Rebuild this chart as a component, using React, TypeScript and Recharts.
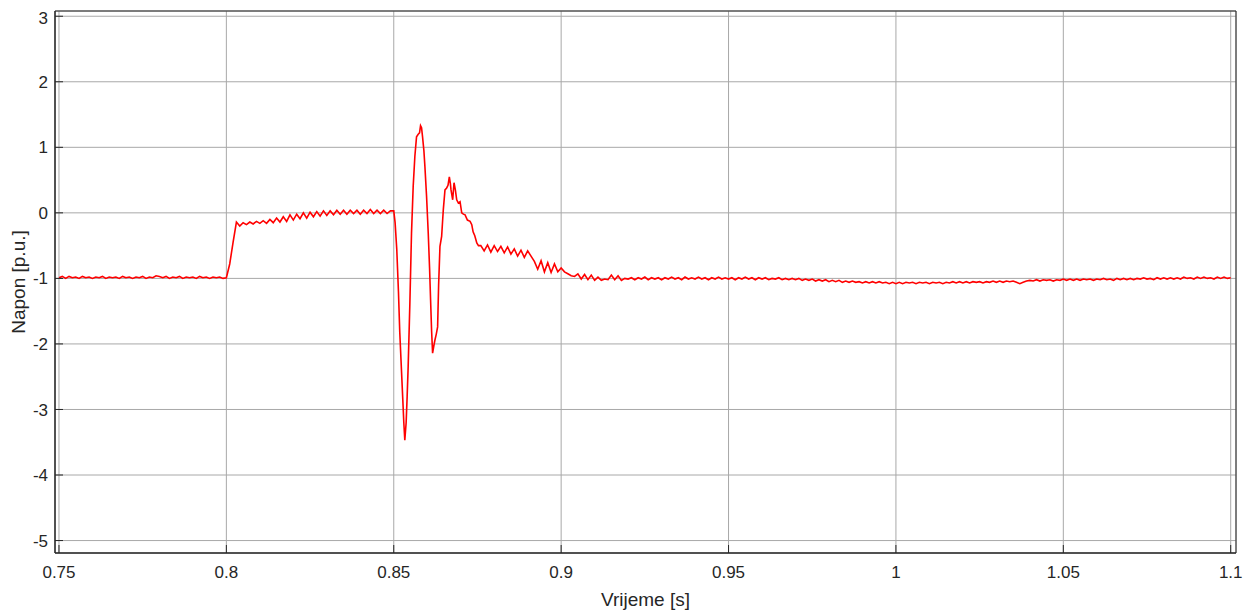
import React from 'react';
import { LineChart, Line, XAxis, YAxis, CartesianGrid, ReferenceArea, Label } from 'recharts';

// ---- axis ticks ----
const xTicks = [0.75, 0.8, 0.85, 0.9, 0.95, 1, 1.05, 1.1];
const yTicks = [-5, -4, -3, -2, -1, 0, 1, 2, 3];
const xDomain: [number, number] = [0.74881, 1.10158];
const yDomain: [number, number] = [-5.19, 3.08];

// ---- sampled data (time grid start / step, voltage in p.u.) ----
const sampleStep = 0.001;

const preFaultStart = 0.75;
const preFaultVoltage = [
  -0.99, -0.97, -1.0, -0.97, -0.99, -0.98, -1.0, -0.97, -0.99, -0.98,
  -1.0, -0.98, -0.99, -0.97, -1.0, -0.98, -0.99, -0.98, -1.0, -0.97,
  -0.99, -0.98, -1.0, -0.98, -0.99, -0.97, -1.0, -0.98, -0.99, -0.96,
  -0.97, -0.99, -0.97, -1.0, -0.98, -0.99, -0.97, -1.0, -0.98, -0.99,
  -0.98, -1.0, -0.97, -0.99, -0.98, -1.0, -0.98, -0.99, -0.98, -1.0,
];

const faultStart = 0.8;
const faultVoltage = [
  -0.99, -0.78, -0.45, -0.14, -0.2, -0.15, -0.18, -0.14, -0.17, -0.13,
  -0.16, -0.12, -0.16, -0.1, -0.15, -0.08, -0.14, -0.06, -0.13, -0.03,
  -0.11, -0.02, -0.09, 0.0, -0.08, 0.01, -0.06, 0.02, -0.05, 0.03,
  -0.04, 0.03, -0.03, 0.04, -0.02, 0.04, -0.02, 0.04, -0.01, 0.04,
  -0.02, 0.04, -0.01, 0.05, -0.01, 0.04, -0.01, 0.04, -0.01, 0.03,
];

const transientTime = [
  0.85, 0.8504, 0.8509, 0.8514, 0.8518, 0.8523, 0.8527, 0.853, 0.8533, 0.8537,
  0.854, 0.8543, 0.8548, 0.8553, 0.8558, 0.8563, 0.8568, 0.8573, 0.8577, 0.858,
  0.8583, 0.8586, 0.859, 0.8593, 0.8598, 0.8603, 0.8607, 0.861, 0.8613, 0.8616,
  0.862, 0.8623, 0.8627, 0.8631, 0.8634, 0.8638, 0.8643, 0.8648, 0.8653, 0.8658,
  0.8662, 0.8666, 0.8669, 0.8671, 0.8676, 0.868, 0.8684, 0.8688, 0.8693, 0.8698,
  0.8703, 0.8708, 0.8713, 0.872, 0.8728, 0.8733, 0.8737, 0.8742, 0.8748, 0.8753,
];
const transientVoltage = [
  0.03, -0.15, -0.56, -1.2, -1.83, -2.4, -2.85, -3.2, -3.47, -3.2,
  -2.8, -2.35, -1.4, -0.31, 0.4, 0.86, 1.16, 1.2, 1.22, 1.33,
  1.3, 1.16, 0.95, 0.71, 0.25, -0.31, -0.85, -1.33, -1.8, -2.14,
  -2.02, -1.94, -1.85, -1.74, -1.1, -0.51, -0.36, 0.05, 0.35, 0.38,
  0.42, 0.55, 0.45, 0.35, 0.2, 0.46, 0.35, 0.2, 0.15, 0.17,
  0.0, -0.02, -0.03, -0.11, -0.13, -0.18, -0.29, -0.35, -0.46, -0.5,
];

const recoveryStart = 0.876;
const recoveryVoltage = [
  -0.5, -0.58, -0.49, -0.6, -0.5, -0.59, -0.51, -0.61, -0.52, -0.63,
  -0.55, -0.66, -0.57, -0.68, -0.58, -0.66, -0.74, -0.86, -0.73, -0.9,
  -0.76, -0.91, -0.78, -0.9, -0.84, -0.9, -0.93, -0.96, -0.97, -0.93,
  -1.01, -0.94, -1.02, -0.95, -1.03, -0.98, -1.03, -1.01, -1.02, -0.95,
  -1.02, -0.96, -1.03, -1.0,
];

const steadyStart = 0.92;
const steadyVoltage = [
  -1.01, -0.99, -1.02, -0.99, -1.01, -0.98, -1.02, -0.99, -1.01, -0.99,
  -1.02, -0.99, -1.01, -0.98, -1.01, -0.99, -1.02, -0.98, -1.01, -0.99,
  -1.01, -0.98, -1.01, -0.99, -1.02, -0.99, -1.01, -0.98, -1.01, -0.99,
  -1.01, -0.99, -1.02, -0.99, -1.01, -0.98, -1.01, -0.99, -1.02, -0.99,
  -1.01, -0.99, -1.02, -1.0, -1.01, -0.99, -1.02, -1.0, -1.02, -1.0,
  -1.02, -1.0, -1.03, -1.01, -1.03, -1.01, -1.04, -1.02, -1.04, -1.02,
  -1.05, -1.03, -1.05, -1.03, -1.06, -1.04, -1.06, -1.04, -1.06, -1.05,
  -1.07, -1.05, -1.07, -1.05, -1.07, -1.05, -1.07, -1.06, -1.08, -1.06,
  -1.08, -1.06, -1.08, -1.06, -1.07, -1.06, -1.08, -1.06, -1.07, -1.06,
  -1.08, -1.06, -1.07, -1.06, -1.08, -1.06, -1.07, -1.05, -1.07, -1.05,
  -1.07, -1.05, -1.07, -1.05, -1.06, -1.05, -1.07, -1.05, -1.06, -1.04,
  -1.06, -1.04, -1.06, -1.04, -1.05, -1.04, -1.06, -1.08, -1.06, -1.04,
  -1.03, -1.04, -1.02, -1.04, -1.02, -1.03, -1.02, -1.04, -1.02, -1.03,
  -1.01, -1.03, -1.01, -1.03, -1.01, -1.03, -1.01, -1.02, -1.01, -1.03,
  -1.01, -1.02, -1.0, -1.02, -1.01, -1.03, -1.0, -1.02, -1.0, -1.02,
  -1.0, -1.02, -1.0, -1.01, -0.99, -1.01, -1.0, -1.02, -0.99, -1.01,
  -0.99, -1.01, -0.99, -1.01, -0.99, -1.01, -0.98, -1.0, -0.99, -1.01,
  -0.98, -1.0, -0.98, -1.0, -0.99, -1.01, -0.98, -1.0, -0.98, -1.0, -0.99,
];

type Pt = { t: number; v: number };
const onGrid = (start: number, values: number[]): Pt[] =>
  values.map((v, i) => ({ t: Math.round((start + i * sampleStep) * 1e6) / 1e6, v }));

const data: Pt[] = [
  ...onGrid(preFaultStart, preFaultVoltage),
  ...onGrid(faultStart, faultVoltage),
  ...transientTime.map((t, i) => ({ t, v: transientVoltage[i] })),
  ...onGrid(recoveryStart, recoveryVoltage),
  ...onGrid(steadyStart, steadyVoltage),
];

const FONT = '"Liberation Sans", Arial, Helvetica, sans-serif';
const TEXT = '#262626';

const YTitle = (props: any) => {
  const vb = props.viewBox || { x: 0, y: 0, width: 0, height: 0 };
  const cx = 10;
  const cy = vb.y + vb.height / 2;
  return (
    <text
      x={cx}
      y={cy}
      transform={`rotate(-90 ${cx} ${cy})`}
      textAnchor="middle"
      dominantBaseline="central"
      fontFamily={FONT}
      fontSize={19}
      fill={TEXT}
    >
      Napon [p.u.]
    </text>
  );
};

const XTitle = (props: any) => {
  const vb = props.viewBox || { x: 0, y: 0, width: 0, height: 0 };
  return (
    <text
      x={vb.x + vb.width / 2}
      y={vb.y + 53}
      textAnchor="middle"
      fontFamily={FONT}
      fontSize={19}
      fill={TEXT}
    >
      Vrijeme [s]
    </text>
  );
};

export default function App() {
  return (
    <div style={{ width: 1244, height: 606, background: '#fff' }}>
      <LineChart
        width={1244}
        height={606}
        data={data}
        margin={{ top: 3, right: 16, bottom: 0, left: 0 }}
      >
        <CartesianGrid stroke="#a8a8a8" strokeWidth={1} />
        <XAxis
          dataKey="t"
          type="number"
          domain={xDomain}
          ticks={xTicks}
          allowDataOverflow
          height={61}
          tickSize={-8}
          tickMargin={21}
          tickLine={{ stroke: TEXT }}
          axisLine={{ stroke: TEXT }}
          tick={{ fill: TEXT, fontSize: 17, fontFamily: FONT }}
        >
          <Label content={<XTitle />} />
        </XAxis>
        <YAxis
          type="number"
          domain={yDomain}
          ticks={yTicks}
          allowDataOverflow
          width={47}
          tickSize={-8}
          tickMargin={15}
          tickLine={{ stroke: TEXT }}
          axisLine={{ stroke: TEXT }}
          tick={{ fill: TEXT, fontSize: 17, fontFamily: FONT }}
        >
          <Label content={<YTitle />} />
        </YAxis>
        <ReferenceArea
          x1={xDomain[0]}
          x2={xDomain[1]}
          y1={yDomain[0]}
          y2={yDomain[1]}
          fill="none"
          stroke={TEXT}
          strokeWidth={1}
          ifOverflow="visible"
        />
        <Line
          dataKey="v"
          type="linear"
          stroke="#ff0000"
          strokeWidth={1.6}
          dot={false}
          isAnimationActive={false}
        />
      </LineChart>
    </div>
  );
}
